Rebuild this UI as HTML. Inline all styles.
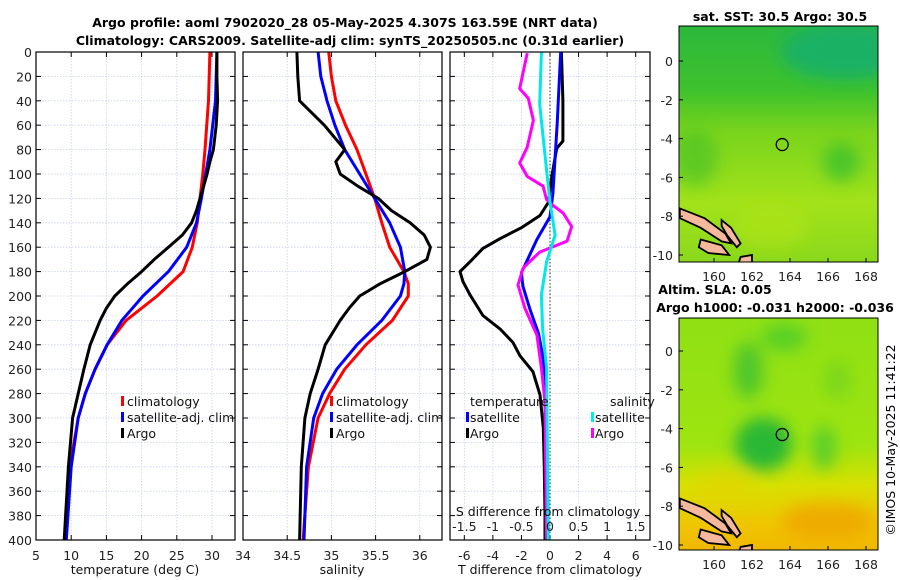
<!DOCTYPE html>
<html><head><meta charset="utf-8"><style>
body{margin:0;background:#fff;}
svg{display:block;font-family:"DejaVu Sans","Liberation Sans",sans-serif;}
</style></head><body>
<svg id="fig" width="900" height="580" viewBox="0 0 900 580" xmlns="http://www.w3.org/2000/svg">
<defs>
<linearGradient id="sstg" x1="0" y1="0" x2="0" y2="1">
<stop offset="0" stop-color="#2cb83c"/><stop offset="0.28" stop-color="#3fc22c"/><stop offset="0.45" stop-color="#7ad41c"/><stop offset="0.75" stop-color="#a2e21a"/><stop offset="1" stop-color="#8ad81c"/></linearGradient>
<linearGradient id="slag" x1="0" y1="0" x2="0" y2="1">
<stop offset="0" stop-color="#8fe014"/><stop offset="0.55" stop-color="#9ee410"/><stop offset="0.72" stop-color="#d8e000"/><stop offset="0.9" stop-color="#f0c400"/><stop offset="1" stop-color="#f0b800"/></linearGradient>
<filter id="blur"><feGaussianBlur stdDeviation="8"/></filter>
<clipPath id="c1"><rect x="679" y="26" width="199" height="236"/></clipPath>
<clipPath id="c2"><rect x="679" y="318" width="199" height="232"/></clipPath>
</defs>
<text x="345" y="27" text-anchor="middle" font-size="12.5" font-weight="bold">Argo profile: aoml 7902020_28 05-May-2025 4.307S 163.59E (NRT data)</text>
<text x="350" y="45" text-anchor="middle" font-size="12.5" font-weight="bold">Climatology: CARS2009. Satellite-adj clim: synTS_20250505.nc (0.31d earlier)</text>
<g id="panels"></g>
<g id="maps"></g>
<text transform="translate(895,440) rotate(-90)" text-anchor="middle" font-size="12.5">©IMOS 10-May-2025 11:41:22</text>
</svg>
<script>
// ---- data (depth in dbar) ----
const tempDepth=[0,40,80,100,120,140,160,180,200,220,240,260,280,300,340,400];
const tempClim=[29.7,29.5,29.0,28.7,28.3,27.9,27.2,25.9,22.2,17.8,15.1,13.4,12.0,11.0,9.8,9.1];
const tempSat=[30.7,30.5,29.7,29.1,28.5,27.8,26.4,23.8,20.2,17.2,15.1,13.4,12.0,11.0,10.0,9.3];
const argoDepth=[0,20,40,60,80,90,100,110,120,130,140,150,160,170,180,190,200,210,220,240,260,280,300,340,400];
const argoTemp=[30.7,30.7,30.8,30.6,30.2,29.7,29.3,28.8,28.3,27.8,27.1,25.8,23.8,21.8,20.0,18.0,16.2,15.0,14.1,12.7,11.8,11.0,10.2,9.6,9.0];
const argoSal=[34.61,34.62,34.64,34.92,35.15,35.05,35.10,35.30,35.53,35.68,35.89,36.05,36.12,36.08,35.83,35.55,35.32,35.2,35.10,34.93,34.85,34.76,34.70,34.66,34.64];
const salDepth=[0,20,40,60,80,100,120,140,160,180,190,200,220,240,260,280,300,340,400];
const salClim=[34.97,35.0,35.05,35.16,35.29,35.39,35.49,35.57,35.66,35.82,35.87,35.87,35.69,35.39,35.15,34.98,34.85,34.74,34.68];
const salSat=[34.85,34.88,34.95,35.04,35.15,35.32,35.49,35.66,35.78,35.83,35.82,35.78,35.57,35.29,35.06,34.9,34.8,34.72,34.69];
const dTDepth=[0,40,73,79,104,123,134,144,153,161,172,180,188,199,216,227,238,249,262,281,308,341,379,400];
const dTArgo=[0.8,0.9,0.9,0.47,0.1,-0.1,-0.7,-2.0,-3.5,-4.7,-5.6,-6.3,-6.1,-5.6,-4.7,-3.5,-2.6,-2.1,-1.2,-0.7,-0.47,-0.4,-0.35,-0.35];
const dTSDepth=[0,60,116,135,154,181,192,211,231,250,269,320,400];
const dTSat=[0.75,0.5,0.2,0,-0.93,-2.0,-1.9,-1.4,-0.8,-0.5,-0.3,-0.25,-0.2];
const dSDepth=[1,30,38,56,78,91,102,110,121,126,132,143,155,164,177,191,210,232,259,286,400];
const dSArgo=[-0.4,-0.53,-0.38,-0.29,-0.4,-0.53,-0.4,-0.12,-0.06,0.06,0.23,0.38,0.3,-0.18,-0.47,-0.56,-0.44,-0.23,-0.15,-0.09,-0.06];
const dSSDepth=[0,43,97,123,150,172,199,227,259,400];
const dSSat=[-0.15,-0.18,-0.06,0,0.09,-0.06,-0.15,-0.13,-0.06,-0.03];
const depthTicks=[0,20,40,60,80,100,120,140,160,180,200,220,240,260,280,300,320,340,360,380,400];
const tTicks=[5,10,15,20,25,30,35];
const sTicks=[34,34.5,35,35.5,36];
const dTTicks=[-6,-4,-2,0,2,4,6];
const dSTicks=[-1.5,-1,-0.5,0,0.5,1,1.5];

const NS='http://www.w3.org/2000/svg';
function mk(tag,attrs,parent,txt){const e=document.createElementNS(NS,tag);for(const k in attrs)e.setAttribute(k,attrs[k]);if(txt!==undefined)e.textContent=txt;parent.appendChild(e);return e;}
const P=document.getElementById('panels');
const Y0=52,Y1=540;
const FS=12.5;
const yD=d=>Y0+d/400*(Y1-Y0);
function axes(x0,x1,xs,ticks,labelY,name,showY){
  const g=mk('g',{},P);
  
  
  depthTicks.forEach(d=>{if(d>0&&d<400){const l=mk('line',{x1:x0,x2:x1,y1:yD(d),y2:yD(d),stroke:'#c8d0ee','stroke-width':0.8,'stroke-dasharray':'1.5,1.5'},g);}
    mk('line',{x1:x0,x2:x0+5,y1:yD(d),y2:yD(d),stroke:'#000'},g);mk('line',{x1:x1,x2:x1-5,y1:yD(d),y2:yD(d),stroke:'#000'},g);
    if(showY){const t=mk('text',{x:x0-4,y:yD(d)+5,'text-anchor':'end','font-size':FS,fill:'#222'},g,String(d));}});
  ticks.forEach(v=>{const x=xs(v);if(x<x0-1||x>x1+9)return;
    if(x>x0+1&&x<x1-1){const l=mk('line',{x1:x,x2:x,y1:Y0,y2:Y1,stroke:'#c8d0ee','stroke-width':0.8,'stroke-dasharray':'1.5,1.5'},g);
      mk('line',{x1:x,x2:x,y1:Y1,y2:Y1-5,stroke:'#000'},g);mk('line',{x1:x,x2:x,y1:Y0,y2:Y0+5,stroke:'#000'},g);}
    if(labelY){const t=mk('text',{x:x,y:labelY,'text-anchor':'middle','font-size':FS,fill:'#222'},g,String(v));}});
  return g;
}
function frame(x0,x1,name){const r=mk('rect',{x:x0,y:Y0,width:x1-x0,height:Y1-Y0,fill:'none',stroke:'#000','stroke-width':1.2},P);}
function line(xs,vals,depths,color,name,w){const pts=vals.map((v,i)=>xs(v).toFixed(1)+','+yD(depths[i]).toFixed(1)).join(' ');const p=mk('polyline',{points:pts,fill:'none',stroke:color,'stroke-width':w||3,'stroke-linejoin':'round'},P);}
function txt(x,y,s,name,anchor){const t=mk('text',{x:x,y:y,'font-size':FS,fill:'#111','text-anchor':anchor||'start'},P,s);}
function mark(x,y,c,name){const r=mk('rect',{x:x,y:y-10,width:3,height:10,fill:c},P);}

// Panel 1 temperature
const xT=v=>36+(v-5)*7.04;
axes(36,235,xT,tTicks,560,'temperature',true);
line(xT,tempClim,tempDepth,'#ff0000','temp-climatology-line');
line(xT,tempSat,tempDepth,'#0000ff','temp-satellite-line');
line(xT,argoTemp,argoDepth,'#000000','temp-argo-line');
frame(36,235,'temperature');
txt(135,574,'temperature (deg C)','x-axis-title-temperature','middle');
mark(121,406,'#f00','legend-marker-climatology');txt(127,406,'climatology','legend-climatology');
mark(121,422,'#00f','legend-marker-satellite');txt(127,422,'satellite-adj. clim','legend-satellite');
mark(121,438,'#000','legend-marker-argo');txt(127,438,'Argo','legend-argo');

// Panel 2 salinity
const xS=v=>243+(v-34)*88.4;
axes(243,442,xS,sTicks,560,'salinity',false);
line(xS,salClim,salDepth,'#ff0000','sal-climatology-line');
line(xS,salSat,salDepth,'#0000ff','sal-satellite-line');
line(xS,argoSal,argoDepth,'#000000','sal-argo-line');
frame(243,442,'salinity');
txt(342,574,'salinity','x-axis-title-salinity','middle');
mark(330,406,'#f00','legend2-marker-climatology');txt(336,406,'climatology','legend2-climatology');
mark(330,422,'#00f','legend2-marker-satellite');txt(336,422,'satellite-adj. clim','legend2-satellite');
mark(330,438,'#000','legend2-marker-argo');txt(336,438,'Argo','legend2-argo');

// Panel 3 differences
const xdT=v=>550+v*14.28;
const xdS=v=>550+v*57.1;
axes(450,650,xdT,dTTicks,560,'difference',false);
const zl=mk('line',{x1:550,x2:550,y1:Y0,y2:Y1,stroke:'#333','stroke-width':1,'stroke-dasharray':'1.5,2'},P);
line(xdT,dTArgo,dTDepth,'#000000','dT-argo-line');
line(xdT,dTSat,dTSDepth,'#0000ff','dT-satellite-line');
line(xdS,dSArgo,dSDepth,'#ff00ff','dS-argo-line');
line(xdS,dSSat,dSSDepth,'#00e8e8','dS-satellite-line');
frame(450,650,'difference');
dSTicks.forEach(v=>{const t=mk('text',{x:xdS(v),y:531,'text-anchor':'middle','font-size':FS,fill:'#222'},P,String(v));});
txt(548,516,'S difference from climatology','s-diff-axis-title','middle');
txt(550,574,'T difference from climatology','t-diff-axis-title','middle');
txt(470,406,'temperature','legend3-temperature-header');
txt(610,406,'salinity','legend3-salinity-header');
mark(466,422,'#00f','legend3-marker-tsat');txt(470,422,'satellite','legend3-tsat');
mark(466,438,'#000','legend3-marker-targo');txt(470,438,'Argo','legend3-targo');
mark(591,422,'#0ee','legend3-marker-ssat');txt(595,422,'satellite','legend3-ssat');
mark(591,438,'#f0f','legend3-marker-sargo');txt(595,438,'Argo','legend3-sargo');

// ---- maps ----
const lonTicks=[160,162,164,166,168];
const latTicks=[0,-2,-4,-6,-8,-10];
const argoLon=163.59, argoLat=-4.307;
const M=document.getElementById('maps');
function map(top,bottom,lat0y,grad,clip,name,blobs){
  const g=mk('g',{},M);
  
  
  const mx=lon=>714+(lon-160)*19;
  const my=lat=>lat0y-lat*19.4;
  const ig=mk('g',{'clip-path':'url(#'+clip+')'},g);
  mk('rect',{x:679,y:top,width:199,height:bottom-top,fill:'url(#'+grad+')'},ig);
  const bg=mk('g',{filter:'url(#blur)'},ig);
  blobs.forEach(b=>mk('ellipse',{cx:mx(b[0]),cy:my(b[1]),rx:b[2]*19,ry:b[3]*19,fill:b[4],opacity:b[5]},bg));
  const isl=[[[158.2,-7.6],[159.5,-8.1],[160.6,-8.9],[160.9,-9.4],[160.4,-9.3],[159.3,-8.6],[158.2,-8.1]],
    [[159.3,-9.2],[160.4,-9.5],[160.8,-10.0],[159.7,-9.9],[159.2,-9.6]],
    [[160.4,-8.2],[160.9,-8.6],[161.4,-9.4],[161.2,-9.6],[160.7,-9.0],[160.4,-8.5]],
    [[161.4,-10.1],[162.0,-10.0],[162.0,-10.4],[161.3,-10.4]]];
  isl.forEach(poly=>{const p=mk('polygon',{points:poly.map(q=>mx(q[0])+','+my(q[1])).join(' '),fill:'#f5b89c',stroke:'#000','stroke-width':1.8},ig);});
  const c=mk('circle',{cx:mx(argoLon),cy:my(argoLat),r:6,fill:'none',stroke:'#000','stroke-width':1.3},g);
  
  
  mk('rect',{x:679,y:top,width:199,height:bottom-top,fill:'none',stroke:'#000','stroke-width':1},g);
  lonTicks.forEach(l=>{mk('line',{x1:mx(l),x2:mx(l),y1:bottom,y2:bottom-4,stroke:'#000'},g);const t=mk('text',{x:mx(l),y:bottom+19,'text-anchor':'middle','font-size':FS,fill:'#222'},g,String(l));});
  latTicks.forEach(l=>{const y=my(l);if(y>bottom+6)return;mk('line',{x1:679,x2:683,y1:y,y2:y,stroke:'#000'},g);const t=mk('text',{x:673,y:y+5,'text-anchor':'end','font-size':FS,fill:'#222'},g,String(l));});
}
map(26,262,61,'sstg','c1','sst-map',[[167,0.5,3.5,1.5,'#14b06a',0.9],[166.7,-5.2,1,1,'#3cc02a',0.8],[159,-5,1.2,1.5,'#40c02a',0.6],[163,-8.5,2,1.2,'#b0e418',0.6]]);
map(318,550,351,'slag','c2','sla-map',[[162.6,-4.8,1.5,1.4,'#2cb836',1],[161.8,-1,0.8,1.5,'#40c030',0.8],[163.7,0.7,1.2,0.7,'#40c830',0.7],[165.8,-5,0.6,1.2,'#48c830',0.8],[166.5,-1.5,0.7,1,'#68d020',0.6],[166,-8.8,2.5,1,'#f0a800',0.9],[160.5,-6.8,1.5,0.7,'#e8d000',0.5]]);
[['sst-map-title','sat. SST: 30.5 Argo: 30.5',780,21],['sla-map-title-1','Altim. SLA: 0.05',715,294],['sla-map-title-2','Argo h1000: -0.031 h2000: -0.036',775,312]].forEach(a=>{
  const t=mk('text',{x:a[2],y:a[3],'text-anchor':'middle','font-size':FS,'font-weight':'bold'},M,a[1]);
  
  
});
</script>
</body></html>
